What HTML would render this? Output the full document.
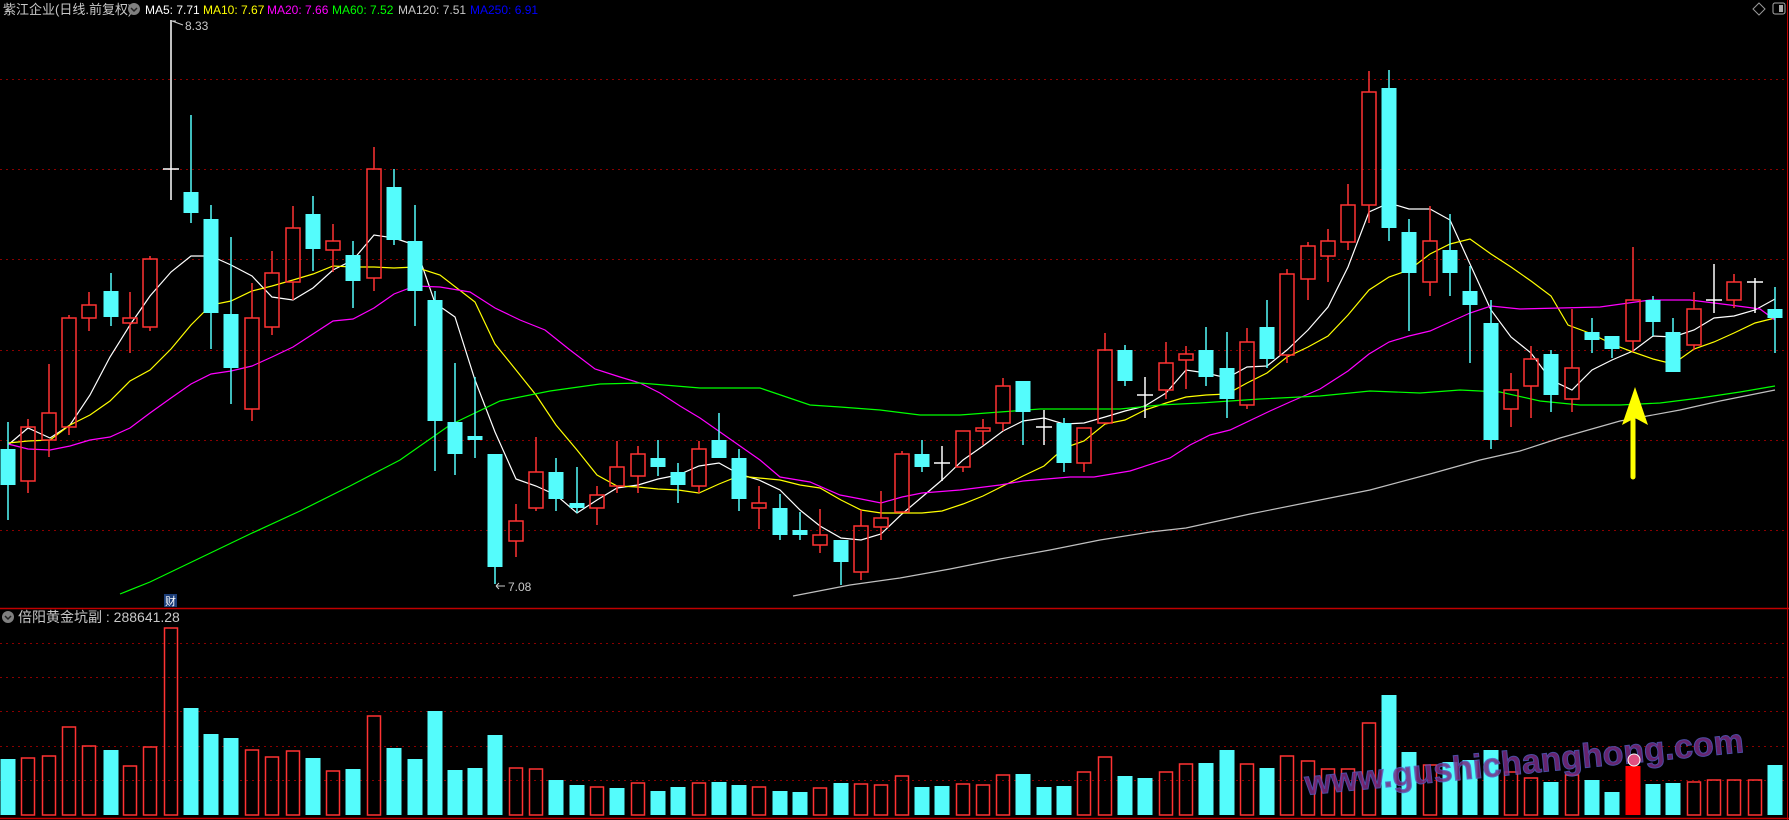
<!DOCTYPE html>
<html><head><meta charset="utf-8">
<style>
html,body{margin:0;padding:0;background:#000;width:1789px;height:820px;overflow:hidden}
svg{display:block}
text{font-family:"Liberation Sans","Noto Sans CJK SC",sans-serif}
</style></head><body>
<svg id="s" width="1789" height="820" viewBox="0 0 1789 820" xmlns="http://www.w3.org/2000/svg">
<rect width="1789" height="820" fill="#000"/>
<g id="grid" stroke="#8a0000" stroke-width="1" stroke-dasharray="2,4"></g>
<line x1="0" y1="608.5" x2="1789" y2="608.5" stroke="#c00000" stroke-width="1.5"/>
<line x1="0" y1="818.5" x2="1789" y2="818.5" stroke="#c00000" stroke-width="1.5"/>
<line x1="1787.5" y1="0" x2="1787.5" y2="820" stroke="#c00000" stroke-width="1"/>
<g id="vol"></g>
<g id="ma" fill="none" stroke-width="1.2"></g>
<g id="cd"></g>
<!-- header -->
<text x="3" y="14" font-size="13" fill="#c8c8c8">紫江企业(日线.前复权)</text>
<circle cx="134" cy="9" r="6" fill="#808080"/><path d="M131 8 L134 11 L137 8" stroke="#222" stroke-width="1.5" fill="none"/>
<text x="145" y="14" font-size="12" fill="#ffffff">MA5: 7.71</text>
<text x="203" y="14" font-size="12" fill="#ffff00">MA10: 7.67</text>
<text x="267" y="14" font-size="12" fill="#ff00ff">MA20: 7.66</text>
<text x="332" y="14" font-size="12" fill="#00ff00">MA60: 7.52</text>
<text x="398" y="14" font-size="12" fill="#c8c8c8">MA120: 7.51</text>
<text x="470" y="14" font-size="12" fill="#0000ff">MA250: 6.91</text>
<path d="M1759 3 L1765 9 L1759 15 L1753 9 Z" stroke="#999" fill="none"/>
<rect x="1773" y="3" width="12" height="11" rx="2" stroke="#aaa" fill="none"/><rect x="1779" y="5" width="4" height="7" fill="#aaa"/>
<!-- price labels -->
<path d="M172 21 L176 21 M172 21 L183 25" stroke="#ccc" fill="none"/>
<text x="185" y="30" font-size="12" fill="#c8c8c8">8.33</text>
<path d="M496 586 L505 586 M496 586 L499 583 M496 586 L499 589" stroke="#ccc" fill="none"/>
<text x="508" y="591" font-size="12" fill="#c8c8c8">7.08</text>
<rect x="164" y="594" width="13" height="13" fill="#1b3d78"/>
<text x="165" y="605" font-size="11" fill="#fff">财</text>
<!-- volume header -->
<circle cx="8" cy="617" r="6" fill="#808080"/><path d="M5 616 L8 619 L11 616" stroke="#222" stroke-width="1.5" fill="none"/>
<text x="18" y="622" font-size="14" fill="#c8c8c8">倍阳黄金坑副 : 288641.28</text>
<!-- arrow -->
<path d="M1633 477 L1633 420" stroke="#ffff00" stroke-width="5" stroke-linecap="round"/>
<path d="M1635 387 L1648 425 L1635 418 L1622 425 Z" fill="#ffff00"/>
<!-- watermark -->
<text x="1306" y="795" font-size="34" font-family="DejaVu Sans Mono, monospace" font-weight="bold" fill="#7a2a80" stroke="#5a5ac0" stroke-width="1" transform="rotate(-5.6 1306 795)" opacity="0.85">www.gushichanghong.com</text>
<circle cx="1634" cy="760" r="6" fill="#e05080" stroke="#fff" stroke-width="1"/>
</svg>
<script>
var NS="http://www.w3.org/2000/svg";
function el(p,t,a){var e=document.createElementNS(NS,t);for(var k in a)e.setAttribute(k,a[k]);p.appendChild(e);return e;}
var g=document.getElementById('grid');
[79,169,259,350,440,530,643,677,711,746,780].forEach(function(y){el(g,'line',{x1:0,y1:y+.5,x2:1787,y2:y+.5});});
var R="#ff3232",C="#54fcfc",W="#ffffff";
var cs=[
[8,449,485,422,520,'c'],[28,427,481,419,493,'r'],[49,413,440,364,457,'r'],[69,318,427,315,435,'r'],[89,305,318,292,331,'r'],
[111,291,317,273,326,'c'],[130,318,323,292,353,'r'],[150,259,327,256,331,'r'],[171,169,169,20,200,'w'],[191,192,213,115,223,'c'],
[211,219,313,205,349,'c'],[231,314,368,237,404,'c'],[252,318,409,283,421,'r'],[272,273,327,251,335,'r'],[293,228,282,206,300,'r'],
[313,214,249,196,271,'c'],[333,241,250,224,272,'r'],[353,255,281,241,308,'c'],[374,169,278,147,291,'r'],[394,187,240,169,245,'c'],
[415,241,291,205,326,'c'],[435,300,421,291,471,'c'],[455,422,454,363,475,'c'],[475,436,440,377,458,'c'],[495,454,567,454,584,'c'],
[516,521,541,504,557,'r'],[536,472,508,437,511,'r'],[556,472,499,458,511,'c'],[577,503,508,467,513,'c'],[597,495,508,486,525,'r'],
[617,467,486,441,493,'r'],[638,454,476,446,493,'r'],[658,458,467,440,476,'c'],[678,472,485,463,503,'c'],[699,449,486,441,493,'r'],
[719,440,458,413,458,'c'],[739,458,499,449,511,'c'],[759,503,508,486,529,'r'],[780,508,535,494,540,'c'],[800,530,535,512,540,'c'],
[820,535,545,509,553,'r'],[841,540,562,540,585,'c'],[861,526,572,510,580,'r'],[881,518,527,491,540,'r'],[902,454,512,451,512,'r'],
[922,454,467,440,472,'c'],[942,463,463,446,481,'w'],[963,431,467,431,472,'r'],[983,428,431,419,445,'r'],[1003,386,423,378,431,'r'],
[1023,381,412,381,445,'c'],[1044,427,427,410,445,'w'],[1064,423,463,418,472,'c'],[1084,428,463,428,472,'r'],[1105,350,423,333,423,'r'],
[1125,350,381,345,386,'c'],[1145,395,395,377,418,'w'],[1166,363,390,342,399,'r'],[1186,354,360,346,389,'r'],[1206,350,377,327,386,'c'],
[1227,368,399,332,418,'c'],[1247,342,405,328,409,'r'],[1267,327,359,300,368,'c'],[1287,274,355,269,363,'r'],[1308,246,279,242,300,'r'],
[1328,241,256,229,282,'r'],[1348,205,242,184,250,'r'],[1369,92,205,71,223,'r'],[1389,88,228,70,241,'c'],[1409,232,273,219,331,'c'],
[1430,241,282,206,296,'r'],[1450,250,273,214,296,'c'],[1470,291,305,266,363,'c'],[1491,323,440,300,449,'c'],[1511,390,409,373,427,'r'],
[1531,359,386,346,418,'r'],[1551,354,395,350,412,'c'],[1572,368,399,309,412,'r'],[1592,332,340,318,353,'c'],[1612,336,349,336,358,'c'],
[1633,300,341,247,352,'r'],[1653,300,322,296,336,'c'],[1673,332,372,318,372,'c'],[1694,309,345,292,350,'r'],[1714,300,300,264,313,'w'],
[1734,282,300,274,308,'r'],[1755,282,282,278,313,'w'],[1775,309,318,287,353,'c']];
var cd=document.getElementById('cd');
cs.forEach(function(c){var x=c[0],t=c[1],b=c[2],h=c[3],l=c[4],k=c[5];
 if(k=='w'){el(cd,'line',{x1:x,y1:h,x2:x,y2:l,stroke:W,'stroke-width':1.5});el(cd,'line',{x1:x-8,y1:t,x2:x+8,y2:t,stroke:W,'stroke-width':1.5});}
 else if(k=='c'){el(cd,'line',{x1:x,y1:h,x2:x,y2:l,stroke:C,'stroke-width':1.5});el(cd,'rect',{x:x-7.5,y:t,width:15,height:Math.max(b-t,2),fill:C});}
 else{if(h<t)el(cd,'line',{x1:x,y1:h,x2:x,y2:t,stroke:R,'stroke-width':1.5});if(l>b)el(cd,'line',{x1:x,y1:b,x2:x,y2:l,stroke:R,'stroke-width':1.5});
  el(cd,'rect',{x:x-7,y:t,width:14,height:Math.max(b-t,2),fill:'none',stroke:R,'stroke-width':1.5});}
});
var vt=[[759,'c'],[758,'r'],[756,'r'],[727,'r'],[746,'r'],[750,'c'],[766,'r'],[747,'r'],[628,'r'],[708,'c'],[734,'c'],[738,'c'],[750,'r'],[757,'r'],[751,'r'],[758,'c'],[771,'r'],[769,'c'],[716,'r'],[748,'c'],[759,'c'],[711,'c'],[770,'c'],[768,'c'],[735,'c'],[768,'r'],[769,'r'],[780,'c'],[785,'c'],[787,'r'],
[788,'c'],[783,'r'],[791,'c'],[787,'c'],[783,'r'],[782,'c'],[785,'c'],[787,'r'],[791,'c'],[792,'c'],[788,'r'],[783,'c'],[784,'r'],[785,'r'],[776,'r'],[787,'c'],[786,'c'],[784,'r'],[785,'r'],[775,'r'],[774,'c'],[787,'c'],[786,'c'],[772,'r'],
[757,'r'],[776,'c'],[778,'c'],[772,'r'],[764,'r'],[763,'c'],[750,'c'],[764,'r'],[768,'c'],[756,'r'],[761,'r'],[769,'r'],[769,'r'],[723,'r'],[695,'c'],[752,'c'],[765,'r'],[762,'c'],[760,'c'],[750,'c'],[772,'r'],[778,'r'],[782,'c'],[775,'r'],[780,'c'],[792,'c'],[766,'f'],[784,'c'],[783,'c'],[782,'r'],[780,'r'],[780,'r'],[780,'r'],[765,'c']];
var vg=document.getElementById('vol');
vt.forEach(function(v,i){var x=cs[i][0],t=v[0];
 if(v[1]=='c')el(vg,'rect',{x:x-7.5,y:t,width:15,height:815-t,fill:C});
 else if(v[1]=='f')el(vg,'rect',{x:x-7.5,y:t,width:15,height:815-t,fill:'#ff0000'});
 else el(vg,'rect',{x:x-6.5,y:t,width:13,height:815-t,fill:'none',stroke:R,'stroke-width':1.5});
});
var mg=document.getElementById('ma');
function pl(col,pts){el(mg,'polyline',{points:pts.map(function(p){return p.join(',')}).join(' '),stroke:col});}
pl('#ffffff',[[8,445],[28,428],[50,438],[70,425],[90,395],[110,357],[130,325],[150,296],[171,272],[191,256],[211,256],[231,265],[252,276],[272,297],[293,300],[313,288],[333,270],[353,260],[374,235],[394,238],[415,245],[435,303],[455,317],[475,380],[495,432],[516,479],[536,486],[556,495],[577,513],[597,500],[617,488],[638,485],[658,479],[678,475],[699,466],[719,463],[739,474],[759,480],[780,490],[800,510],[820,526],[841,538],[861,540],[881,534],[902,514],[922,497],[942,480],[963,460],[983,446],[1003,431],[1023,421],[1044,418],[1064,424],[1084,423],[1105,417],[1125,411],[1145,406],[1166,393],[1186,370],[1206,373],[1227,378],[1247,367],[1267,366],[1287,350],[1308,330],[1328,307],[1348,267],[1369,212],[1389,203],[1409,209],[1430,209],[1450,220],[1470,264],[1491,310],[1511,337],[1531,353],[1551,380],[1572,390],[1592,370],[1612,360],[1633,351],[1653,336],[1673,337],[1694,330],[1714,318],[1734,316],[1755,310],[1775,299]]);
pl('#ffff00',[[8,443],[28,441],[50,440],[70,425],[90,415],[110,401],[130,381],[150,370],[171,349],[191,325],[211,305],[231,301],[252,291],[272,286],[293,280],[313,274],[333,266],[353,267],[374,267],[394,268],[415,267],[440,275],[475,302],[495,344],[516,370],[536,395],[556,425],[577,450],[597,475],[617,486],[638,487],[658,489],[678,490],[699,493],[719,484],[739,476],[759,478],[780,480],[800,485],[820,488],[841,500],[861,510],[881,513],[902,513],[922,513],[942,511],[963,504],[983,496],[1003,486],[1023,476],[1044,466],[1064,448],[1084,441],[1105,424],[1125,420],[1145,410],[1166,403],[1186,397],[1206,395],[1227,394],[1247,383],[1267,373],[1287,357],[1308,347],[1328,336],[1348,315],[1369,290],[1389,277],[1409,270],[1430,254],[1450,244],[1470,239],[1491,254],[1511,267],[1531,281],[1551,296],[1568,325],[1592,334],[1612,344],[1633,352],[1653,359],[1673,364],[1694,349],[1714,342],[1734,333],[1755,323],[1775,318]]);
pl('#ff00ff',[[8,444],[28,449],[50,450],[70,446],[90,440],[110,437],[130,428],[150,413],[171,398],[191,384],[211,374],[231,371],[252,366],[272,357],[293,347],[313,334],[333,321],[353,319],[374,308],[394,294],[415,286],[440,287],[470,292],[495,308],[520,320],[545,330],[570,350],[595,369],[620,377],[640,383],[660,393],[680,406],[700,418],[720,432],[740,446],[760,460],[780,477],[810,482],[840,495],[861,499],[881,503],[902,497],[922,493],[960,490],[1000,485],[1023,481],[1070,477],[1094,477],[1130,471],[1170,458],[1190,445],[1210,435],[1230,430],[1270,411],[1290,402],[1320,389],[1348,371],[1369,354],[1389,342],[1409,336],[1430,331],[1450,322],[1470,313],[1491,306],[1520,309],[1560,308],[1600,307],[1650,300],[1690,300],[1730,305],[1760,309],[1775,320]]);
pl('#00ff00',[[120,594],[150,582],[200,558],[250,534],[300,511],[350,486],[400,460],[450,425],[500,401],[550,391],[600,384],[640,383],[700,388],[760,388],[810,405],[840,407],[880,410],[920,415],[960,415],[1000,412],[1040,409],[1080,409],[1120,409],[1160,405],[1200,403],[1260,399],[1320,396],[1370,391],[1420,393],[1460,390],[1500,392],[1540,401],[1580,405],[1620,405],[1660,403],[1700,398],[1740,392],[1775,386]]);
pl('#c0c0c0',[[793,596],[850,585],[900,578],[950,569],[1000,559],[1050,550],[1100,540],[1150,532],[1186,528],[1250,514],[1320,500],[1370,490],[1430,474],[1480,460],[1520,451],[1560,438],[1620,421],[1680,410],[1720,401],[1775,390]]);
</script>
</body></html>
